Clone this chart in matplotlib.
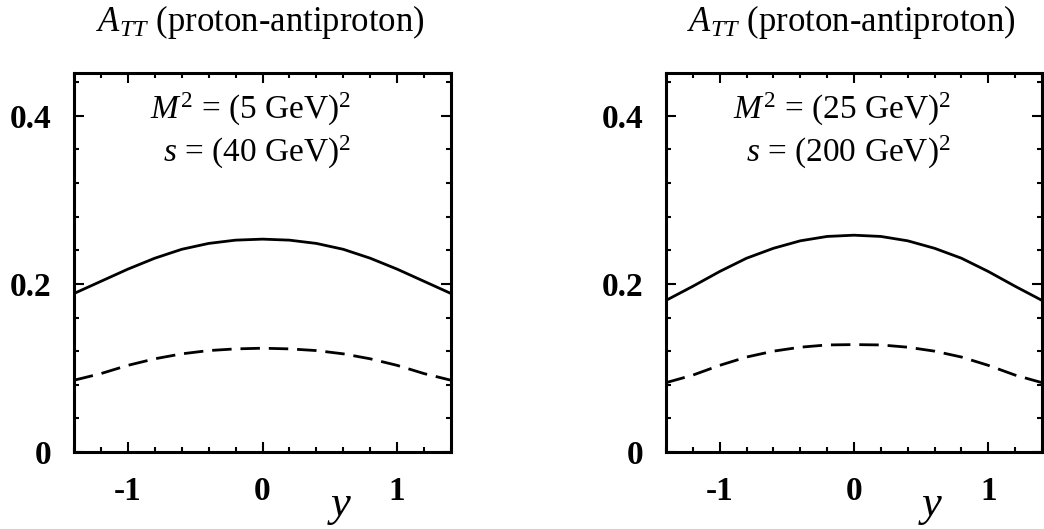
import numpy as np
import matplotlib
matplotlib.use("Agg")
import matplotlib.pyplot as plt
from matplotlib.ticker import MultipleLocator

plt.rcParams['font.family'] = ['Liberation Serif', 'DejaVu Serif']
plt.rcParams['mathtext.fontset'] = 'custom'
plt.rcParams['mathtext.rm'] = 'Liberation Serif'
plt.rcParams['mathtext.it'] = 'Liberation Serif:italic'
plt.rcParams['mathtext.bf'] = 'Liberation Serif:bold'

# rapidity grid
y_vals = [-1.4, -1.2, -1.0, -0.8, -0.6, -0.4, -0.2, 0.0, 0.2, 0.4, 0.6, 0.8, 1.0, 1.2, 1.4]

# left panel: M = 5 GeV, sqrt(s) = 40 GeV
left_solid = [0.1886, 0.2031, 0.2176, 0.2306, 0.2412, 0.2482, 0.2521, 0.2533,
              0.2521, 0.2482, 0.2412, 0.2306, 0.2176, 0.2031, 0.1886]
left_dashed = [0.0854, 0.0933, 0.1031, 0.1109, 0.1168, 0.1207, 0.1227, 0.1235,
               0.1227, 0.1207, 0.1168, 0.1109, 0.1031, 0.0933, 0.0854]

# right panel: M = 25 GeV, sqrt(s) = 200 GeV
right_solid = [0.1804, 0.1972, 0.2148, 0.2306, 0.2424, 0.2513, 0.2565, 0.2580,
               0.2565, 0.2513, 0.2424, 0.2306, 0.2148, 0.1972, 0.1804]
right_dashed = [0.0825, 0.0915, 0.1031, 0.1130, 0.1200, 0.1247, 0.1274, 0.1278,
                0.1274, 0.1247, 0.1200, 0.1130, 0.1031, 0.0915, 0.0825]

title = r'$A_{TT}$ (proton-antiproton)'
labels_m = [r'$M^2$ = (5 GeV)$^2$', r'$M^2$ = (25 GeV)$^2$']
labels_s = [r'$s$ = (40 GeV)$^2$', r'$s$ = (200 GeV)$^2$']

fig = plt.figure(figsize=(10.44, 5.29), dpi=100)
W, H = 1044, 529
boxes = [(74, 451), (666, 1042)]
top, bottom = 73, 452

panels = [(left_solid, left_dashed), (right_solid, right_dashed)]

for i, (x0, x1) in enumerate(boxes):
    ax = fig.add_axes([x0 / W, (H - bottom) / H, (x1 - x0) / W, (bottom - top) / H])
    solid, dashed = panels[i]
    ax.plot(y_vals, solid, color='black', lw=2.0, solid_joinstyle='round')
    ax.plot(y_vals, dashed, color='black', lw=2.0, dashes=(7, 3.2))

    ax.set_xlim(-1.4, 1.4)
    ax.set_ylim(0, 0.451)
    ax.xaxis.set_minor_locator(MultipleLocator(0.2))
    ax.yaxis.set_minor_locator(MultipleLocator(0.04))
    ax.set_xticks([-1, 0, 1])
    ax.set_xticklabels(['-1', '0', '1'], fontweight='bold', fontsize=24)
    ax.set_yticks([0, 0.2, 0.4])
    ax.set_yticklabels(['0', '0.2', '0.4'], fontweight='bold', fontsize=24)

    ax.tick_params(which='both', direction='in', top=True, right=True, width=1.5)
    ax.tick_params(which='major', length=7)
    ax.tick_params(which='minor', length=3.5)
    ax.tick_params(axis='x', which='major', pad=17)
    ax.tick_params(axis='y', which='major', pad=16)
    for sp in ax.spines.values():
        sp.set_linewidth(2.2)

    ax.text(0.493, 1.135, title, transform=ax.transAxes, ha='center', va='center', fontsize=25)
    ax.text(0.468, 0.905, labels_m[i], transform=ax.transAxes, ha='center', va='center', fontsize=24)
    ax.text(0.485, 0.79, labels_s[i], transform=ax.transAxes, ha='center', va='center', fontsize=24)
    ax.text(0.705, -0.145, r'$y$', transform=ax.transAxes, ha='center', va='center', fontsize=32)

fig.savefig('out.png', dpi=100)
